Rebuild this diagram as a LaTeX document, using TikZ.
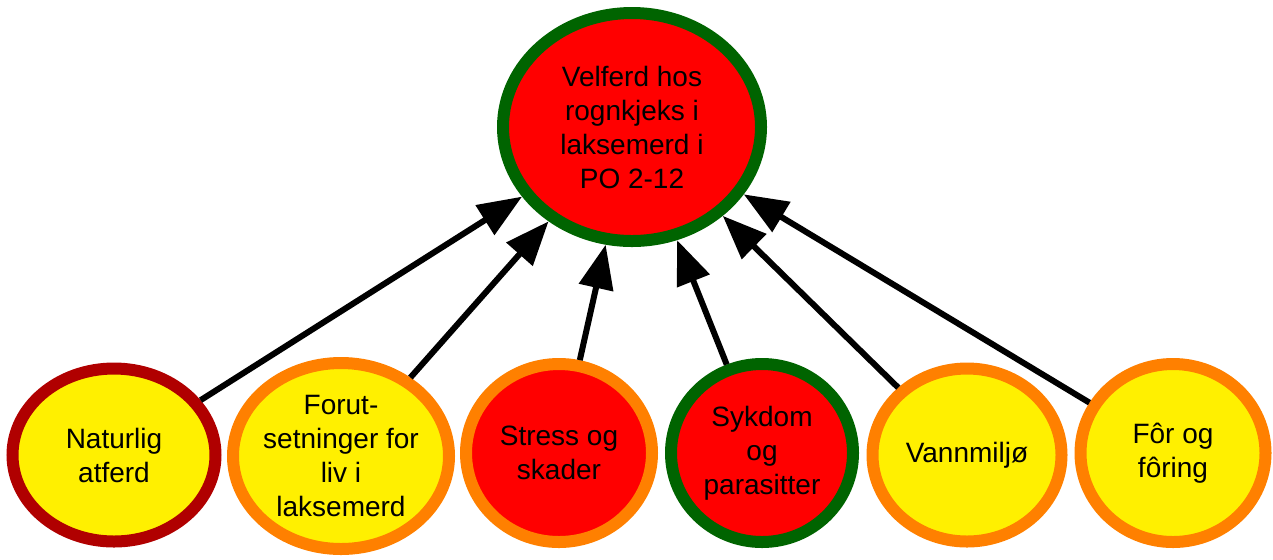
\documentclass[tikz,border=0pt]{standalone}
\usepackage{fontspec}
\setmainfont{Liberation Sans}
\usetikzlibrary{shapes.geometric,arrows.meta}
\definecolor{cyel}{RGB}{255,240,0}
\definecolor{cred}{RGB}{255,0,0}
\definecolor{cgreen}{RGB}{0,100,0}
\definecolor{corange}{RGB}{255,128,0}
\definecolor{cdred}{RGB}{176,0,0}
\begin{document}
\begin{tikzpicture}[x=0.5pt,y=-0.5pt,
  bub/.style={ellipse, line width=6pt, inner sep=0pt},
  txt/.style={align=center, font=\fontsize{14}{17}\selectfont},
  arr/.style={line width=3pt, -{Triangle[length=22pt,width=17pt]}}]
\useasboundingbox (0,0) rectangle (1273,559);
\node[bub, draw=cgreen, fill=cred, minimum width=129pt, minimum height=114pt,
  label={[txt]center:Velferd hos\\rognkjeks i\\laksemerd i\\PO 2-12}] (top) at (632,127) {};
\node[bub, draw=cdred, fill=cyel, minimum width=101.5pt, minimum height=86.5pt,
  label={[txt]center:Naturlig\\atferd}] (b1) at (114,455) {};
\node[bub, draw=corange, fill=cyel, minimum width=108pt, minimum height=93pt,
  label={[txt]center:Forut-\\setninger for\\liv i\\laksemerd}] (b2) at (341,456) {};
\node[bub, draw=corange, fill=cred, minimum width=93pt, minimum height=89pt,
  label={[txt]center:Stress og\\skader}] (b3) at (559,453) {};
\node[bub, draw=cgreen, fill=cred, minimum width=91pt, minimum height=89pt,
  label={[txt]center:Sykdom\\og\\parasitter}] (b4) at (762,453) {};
\node[bub, draw=corange, fill=cyel, minimum width=94.5pt, minimum height=86.5pt,
  label={[txt]center:Vannmiljø}] (b5) at (967,455) {};
\node[bub, draw=corange, fill=cyel, minimum width=92.5pt, minimum height=89pt,
  label={[txt]center:Fôr og\\fôring}] (b6) at (1173,453) {};
\foreach \b in {b1,b2,b3,b4,b5,b6}
  \draw[arr] (\b) -- (top);
\end{tikzpicture}
\end{document}
